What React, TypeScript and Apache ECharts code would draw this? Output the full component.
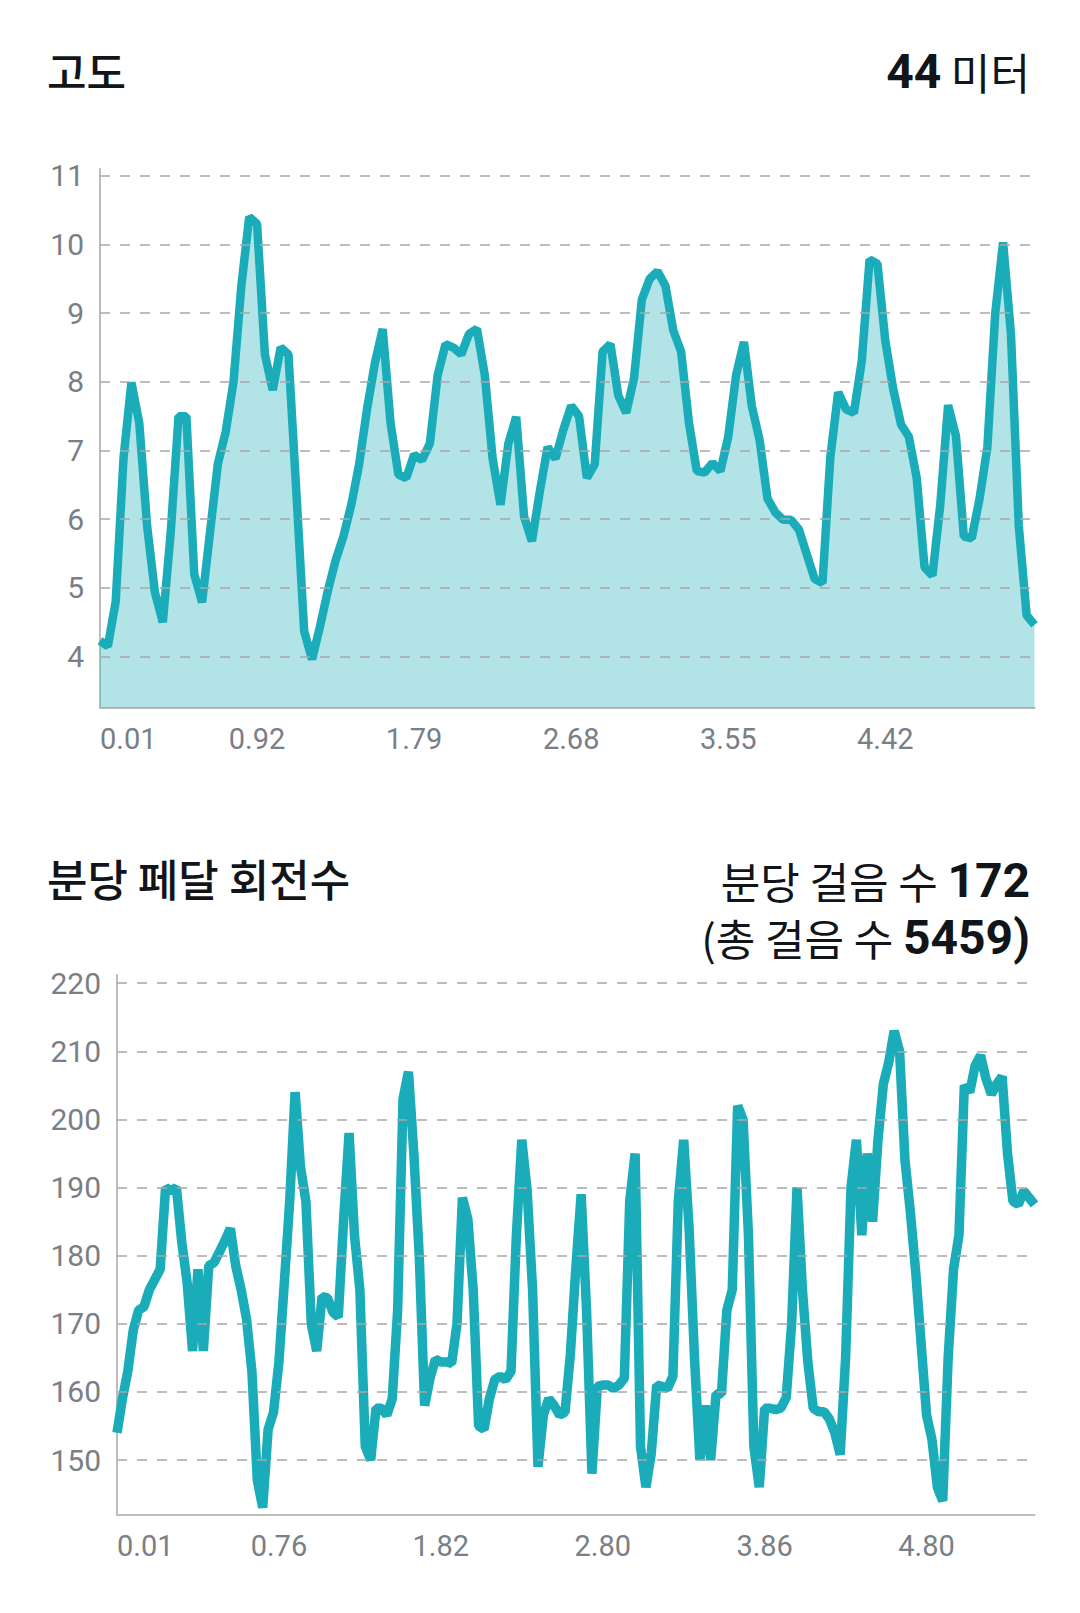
import React, { useEffect, useRef } from 'react';
import * as echarts from 'echarts';

// ---- summary values ----
const ELEVATION_GAIN_M = 44;
const AVG_CADENCE = 172;
const TOTAL_STEPS = 5459;

// ---- elevation chart (고도) ----
const elevation = [
  4.23, 4.15, 4.8, 6.9, 7.99, 7.4, 5.9, 4.93, 4.5, 5.8,
  7.5, 7.5, 5.2, 4.79, 5.8, 6.8, 7.27, 8.0, 9.4, 10.4,
  10.3, 8.4, 7.88, 8.5, 8.4, 6.4, 4.37, 3.96, 4.43, 4.95,
  5.4, 5.75, 6.21, 6.8, 7.6, 8.27, 8.77, 7.4, 6.65, 6.6,
  6.94, 6.86, 7.1, 8.1, 8.55, 8.5, 8.4, 8.7, 8.77, 8.1,
  6.88, 6.21, 7.1, 7.49, 6.04, 5.68, 6.4, 7.05, 6.88, 7.3,
  7.65, 7.5, 6.6, 6.8, 8.44, 8.55, 7.8, 7.55, 8.05, 9.2,
  9.5, 9.61, 9.4, 8.75, 8.44, 7.4, 6.7, 6.68, 6.82, 6.7,
  7.2, 8.1, 8.58, 7.65, 7.15, 6.3, 6.1, 5.99, 5.99, 5.85,
  5.49, 5.13, 5.07, 6.9, 7.85, 7.6, 7.55, 8.3, 9.78, 9.72,
  8.6, 7.9, 7.38, 7.2, 6.6, 5.3, 5.18, 6.21, 7.66, 7.21,
  5.75, 5.72, 6.3, 7.05, 9.0, 10.03, 8.7, 5.9, 4.6, 4.46,
];
const elevationTicks = ['0.01', '0.92', '1.79', '2.68', '3.55', '4.42'];
const ELEV_TICK_STEP = 20;
const elevationGridValues = [4, 5, 6, 7, 8, 9, 10, 11];

// ---- cadence chart (분당 페달 회전수) ----
const cadence = [
  154, 159, 163, 169, 172, 172.5, 175, 176.5, 178, 190,
  189.5, 190, 182, 176, 166, 178, 166, 178.5, 179, 180.6,
  182.2, 184, 178.5, 175, 170.7, 163, 147, 143, 154.5, 157,
  164.4, 176, 188, 204, 193, 188, 170, 166, 174, 173.8,
  171.7, 171, 185.4, 198, 183, 175, 152, 150, 157.6, 157.6,
  156.6, 159, 172, 203, 207, 195, 180, 158, 162, 164.8,
  164.4, 164.4, 164.2, 170, 188.5, 185.4, 175, 155, 154.5, 159,
  161.8, 162.3, 161.8, 163, 183, 197, 189.5, 175, 149, 156.6,
  159, 158, 156.6, 157, 165.5, 178, 189, 172, 148, 160.8,
  161, 161, 160.5, 161, 162, 188, 195, 152, 146, 151,
  161, 160.8, 160.5, 162.3, 188, 197, 184, 165, 150, 158,
  150, 159.7, 159.7, 172, 175, 202, 200, 183, 152, 146,
  157.6, 157.6, 157.4, 157.6, 159.2, 170, 190, 175, 164.4, 157.6,
  157.1, 157.1, 156, 154, 150.8, 165, 190, 197, 183, 195,
  185, 197, 205.2, 208.4, 213, 210, 194, 186.4, 177.5, 167,
  156.6, 153, 146, 144, 165, 178, 183, 205, 204, 207.9,
  209.4, 206, 203.7, 205.2, 206.3, 195, 188, 187.5, 189.5, 188.5,
  187.5,
];
const cadenceTicks = ['0.01', '0.76', '1.82', '2.80', '3.86', '4.80'];
const CAD_TICK_STEP = 30;
const cadenceGridValues = [150, 160, 170, 180, 190, 200, 210, 220];

const LINE_COLOR = '#1aacb9';
const LABEL_COLOR = '#7a7e86';
const AXIS_COLOR = '#bdbdbd';
const GRID_COLOR = '#a8a8a8';
const TITLE_COLOR = '#111418';
const HANGUL = "'Noto Sans CJK KR', 'Noto Sans', sans-serif";
const LATIN = "Roboto, 'Noto Sans CJK KR', sans-serif";

function xAxisFor(gridIndex: number, count: number, ticks: string[], step: number, margin: number) {
  return {
    type: 'category',
    gridIndex,
    boundaryGap: false,
    data: Array.from({ length: count }, (_, i) => String(i)),
    axisLine: { show: true, lineStyle: { color: AXIS_COLOR, width: 2 } },
    axisTick: { show: false },
    splitLine: { show: false },
    axisLabel: {
      interval: step - 1,
      alignMinLabel: 'left',
      margin,
      color: LABEL_COLOR,
      fontSize: 29,
      fontFamily: 'Roboto',
      formatter: (_v: string, idx: number) => (idx % step === 0 ? ticks[idx / step] ?? '' : ''),
    },
  };
}

function gridMarkLine(values: number[]) {
  return {
    silent: true,
    symbol: ['none', 'none'],
    label: { show: false },
    lineStyle: { color: GRID_COLOR, width: 1.5, type: [10, 10] },
    data: values.map((v) => ({ yAxis: v })),
  };
}

const rightRich = {
  n: { fill: TITLE_COLOR, fontSize: 48, fontWeight: 700, fontFamily: LATIN },
  u: { fill: TITLE_COLOR, fontSize: 43, fontWeight: 400, fontFamily: HANGUL },
};

const option = {
  animation: false,
  backgroundColor: '#ffffff',
  grid: [
    { left: 100, right: 45.5, top: 169, height: 539, containLabel: false },
    { left: 117, right: 45.5, top: 975, height: 539.5, containLabel: false },
  ],
  xAxis: [
    xAxisFor(0, elevation.length, elevationTicks, ELEV_TICK_STEP, 16),
    xAxisFor(1, cadence.length, cadenceTicks, CAD_TICK_STEP, 17),
  ],
  yAxis: [
    {
      type: 'value',
      gridIndex: 0,
      min: 3.25,
      max: 11.1,
      interval: 0.25,
      axisLine: { show: true, lineStyle: { color: AXIS_COLOR, width: 2 } },
      axisTick: { show: false },
      splitLine: { show: false },
      axisLabel: {
        margin: 16,
        color: LABEL_COLOR,
        fontSize: 30,
        fontFamily: 'Roboto',
        formatter: (v: number) => (elevationGridValues.includes(v) ? String(v) : ''),
      },
    },
    {
      type: 'value',
      gridIndex: 1,
      min: 142,
      max: 221.2,
      interval: 2,
      axisLine: { show: true, lineStyle: { color: AXIS_COLOR, width: 2 } },
      axisTick: { show: false },
      splitLine: { show: false },
      axisLabel: {
        margin: 16,
        color: LABEL_COLOR,
        fontSize: 30,
        fontFamily: 'Roboto',
        formatter: (v: number) => (cadenceGridValues.includes(v) ? String(v) : ''),
      },
    },
  ],
  series: [
    {
      type: 'line',
      xAxisIndex: 0,
      yAxisIndex: 0,
      data: [],
      z: 1,
      markLine: gridMarkLine(elevationGridValues),
    },
    {
      type: 'line',
      xAxisIndex: 1,
      yAxisIndex: 1,
      data: [],
      z: 1,
      markLine: gridMarkLine(cadenceGridValues),
    },
    {
      type: 'line',
      xAxisIndex: 0,
      yAxisIndex: 0,
      data: elevation,
      z: 3,
      symbol: 'none',
      showSymbol: false,
      lineStyle: { color: LINE_COLOR, width: 8.5, join: 'bevel' },
      areaStyle: { color: LINE_COLOR, opacity: 0.34, origin: 'start' },
    },
    {
      type: 'line',
      xAxisIndex: 1,
      yAxisIndex: 1,
      data: cadence,
      z: 3,
      symbol: 'none',
      showSymbol: false,
      lineStyle: { color: LINE_COLOR, width: 9.5, join: 'bevel' },
    },
  ],
  graphic: [
    {
      type: 'text',
      x: 47,
      y: 70,
      style: {
        text: '고도',
        fill: TITLE_COLOR,
        fontSize: 43,
        fontWeight: 500,
        fontFamily: HANGUL,
        align: 'left',
        verticalAlign: 'middle',
      },
    },
    {
      type: 'text',
      x: 1030,
      y: 71,
      style: {
        text: `{n|${ELEVATION_GAIN_M}}{u| 미터}`,
        align: 'right',
        verticalAlign: 'middle',
        rich: rightRich,
      },
    },
    {
      type: 'text',
      x: 47,
      y: 878,
      style: {
        text: '분당 페달 회전수',
        fill: TITLE_COLOR,
        fontSize: 44,
        fontWeight: 500,
        fontFamily: HANGUL,
        align: 'left',
        verticalAlign: 'middle',
      },
    },
    {
      type: 'text',
      x: 1030,
      y: 880,
      style: {
        text: `{u|분당 걸음 수 }{n|${AVG_CADENCE}}`,
        align: 'right',
        verticalAlign: 'middle',
        rich: rightRich,
      },
    },
    {
      type: 'text',
      x: 1030,
      y: 937,
      style: {
        text: `{u|(총 걸음 수 }{n|${TOTAL_STEPS})}`,
        align: 'right',
        verticalAlign: 'middle',
        rich: rightRich,
      },
    },
  ],
};

export default function App() {
  const ref = useRef<HTMLDivElement>(null);
  useEffect(() => {
    if (!ref.current) return;
    const chart = echarts.init(ref.current, null, { renderer: 'svg' });
    chart.setOption(option as any);
    return () => {
      chart.dispose();
    };
  }, []);
  return (
    <div
      ref={ref}
      style={{ position: 'absolute', left: 0, top: 0, width: 1080, height: 1613, background: '#ffffff' }}
    />
  );
}
